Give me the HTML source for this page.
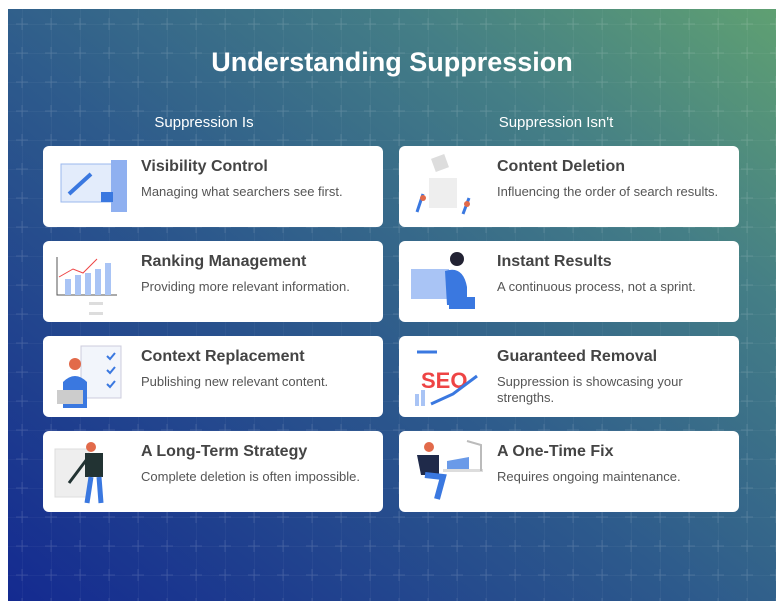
<!DOCTYPE html>
<html><head><style>
*{margin:0;padding:0;box-sizing:border-box}
body{width:784px;height:609px;background:#fff;position:relative;font-family:"Liberation Sans",sans-serif;overflow:hidden}
#bg{position:absolute;left:8px;top:9px;width:768px;height:592px;background:linear-gradient(38deg,#142a90 0%,#2d5a8c 45%,#447e86 75%,#5fa072 100%);overflow:hidden}
h1{position:absolute;left:0;width:768px;top:38px;text-align:center;color:#fff;font-size:27px;font-weight:bold}
.hd{position:absolute;top:105px;color:#fff;font-size:15px;text-align:center;width:340px}
.card{position:absolute;width:340px;height:81px;background:#fff;border-radius:6px}
.card .t{position:absolute;left:98px;top:12px;font-size:16px;font-weight:bold;color:#444}
.card .d{position:absolute;left:98px;top:38px;font-size:13px;color:#555;line-height:16px;width:230px}
.card svg{position:absolute;left:8px;top:6px}
</style></head><body>
<div id="bg">
<svg width="768" height="592" style="position:absolute;left:0;top:0">
<defs><pattern id="p" x="14" y="15" width="29" height="29" patternUnits="userSpaceOnUse">
<path d="M0 0H29M0 0V29" stroke="#fff" stroke-opacity="0.07" stroke-width="1"/>
<path d="M-6 0H6M0 -6V6M23 0H35M29 -6V6M-6 29H6M0 23V35M23 29H35M29 23V35" stroke="#fff" stroke-opacity="0.12" stroke-width="1"/>
</pattern></defs>
<rect width="768" height="592" fill="url(#p)"/>
</svg>
<h1>Understanding Suppression</h1>
<div class="hd" style="left:26px">Suppression Is</div>
<div class="hd" style="left:378px">Suppression Isn't</div>
</div>

<div class="card" style="left:43px;top:146px"><svg width="80" height="70"><rect x="10" y="12" width="52" height="38" fill="#e3ecfb" stroke="#9bb8ee"/><rect x="60" y="8" width="16" height="52" fill="#8fb0f0"/><path d="M18 42L40 22" stroke="#3a78e0" stroke-width="4"/><rect x="50" y="40" width="12" height="10" fill="#3a78e0"/></svg><div class="t">Visibility Control</div><div class="d">Managing what searchers see first.</div></div>
<div class="card" style="left:43px;top:241px"><svg width="80" height="70"><path d="M6 10V48H66" stroke="#555" fill="none"/><rect x="14" y="32" width="6" height="16" fill="#a9c4f5"/><rect x="24" y="28" width="6" height="20" fill="#a9c4f5"/><rect x="34" y="26" width="6" height="22" fill="#a9c4f5"/><rect x="44" y="22" width="6" height="26" fill="#a9c4f5"/><rect x="54" y="16" width="6" height="32" fill="#a9c4f5"/><path d="M8 30L22 22L32 26L46 12" stroke="#e44" fill="none"/><rect x="38" y="55" width="14" height="3" fill="#ddd"/><rect x="38" y="65" width="14" height="3" fill="#ddd"/></svg><div class="t">Ranking Management</div><div class="d">Providing more relevant information.</div></div>
<div class="card" style="left:43px;top:336px"><svg width="80" height="70"><rect x="30" y="4" width="40" height="52" fill="#f2f5fb" stroke="#ccd"/><path d="M56 14l3 3 5-6M56 28l3 3 5-6M56 42l3 3 5-6" stroke="#3a78e0" stroke-width="2" fill="none"/><circle cx="24" cy="22" r="6" fill="#e26a4a"/><path d="M12 66V40Q24 28 36 40V66Z" fill="#3a78e0"/><rect x="6" y="48" width="26" height="14" fill="#ccc"/></svg><div class="t">Context Replacement</div><div class="d">Publishing new relevant content.</div></div>
<div class="card" style="left:43px;top:431px"><svg width="80" height="70"><rect x="4" y="12" width="34" height="48" fill="#eee" stroke="#ddd"/><circle cx="40" cy="10" r="5" fill="#e26a4a"/><path d="M34 16H52V40H34Z" fill="#233"/><path d="M40 40L36 66M48 40L50 66" stroke="#3a78e0" stroke-width="5"/><path d="M36 22L18 46" stroke="#233" stroke-width="3"/></svg><div class="t">A Long-Term Strategy</div><div class="d">Complete deletion is often impossible.</div></div>

<div class="card" style="left:399px;top:146px"><svg width="80" height="70"><rect x="26" y="4" width="14" height="14" fill="#ddd" transform="rotate(-20 33 11)"/><rect x="22" y="26" width="28" height="30" fill="#eee"/><path d="M10 60l6-18M56 62l6-16" stroke="#3a78e0" stroke-width="3"/><circle cx="16" cy="46" r="3" fill="#e26a4a"/><circle cx="60" cy="52" r="3" fill="#e26a4a"/></svg><div class="t">Content Deletion</div><div class="d">Influencing the order of search results.</div></div>
<div class="card" style="left:399px;top:241px"><svg width="80" height="70"><rect x="4" y="22" width="38" height="30" fill="#a9c4f5"/><circle cx="50" cy="12" r="7" fill="#223"/><path d="M38 24Q56 18 60 40V58H40Z" fill="#3a78e0"/><rect x="42" y="50" width="26" height="12" fill="#3a78e0"/></svg><div class="t">Instant Results</div><div class="d">A continuous process, not a sprint.</div></div>
<div class="card" style="left:399px;top:336px"><svg width="80" height="70"><text x="14" y="46" font-family="Liberation Sans" font-weight="bold" font-size="22" fill="#e44">SEO</text><path d="M10 10H30" stroke="#3a78e0" stroke-width="3"/><path d="M24 62L46 52L70 34" stroke="#3a78e0" stroke-width="3" fill="none"/><rect x="8" y="52" width="4" height="12" fill="#a9c4f5"/><rect x="14" y="48" width="4" height="16" fill="#a9c4f5"/></svg><div class="t">Guaranteed Removal</div><div class="d">Suppression is showcasing your strengths.</div></div>
<div class="card" style="left:399px;top:431px"><svg width="80" height="70"><circle cx="22" cy="10" r="5" fill="#e26a4a"/><path d="M10 18H32V38H14Z" fill="#1f2a4a"/><path d="M18 38L36 40L30 62" stroke="#3a78e0" stroke-width="6" fill="none"/><path d="M40 24L62 20V32H40Z" fill="#6a9ae8"/><rect x="36" y="32" width="40" height="3" fill="#ddd"/><path d="M74 34V8L60 4" stroke="#bbb" stroke-width="2" fill="none"/></svg><div class="t">A One-Time Fix</div><div class="d">Requires ongoing maintenance.</div></div>
</body></html>
